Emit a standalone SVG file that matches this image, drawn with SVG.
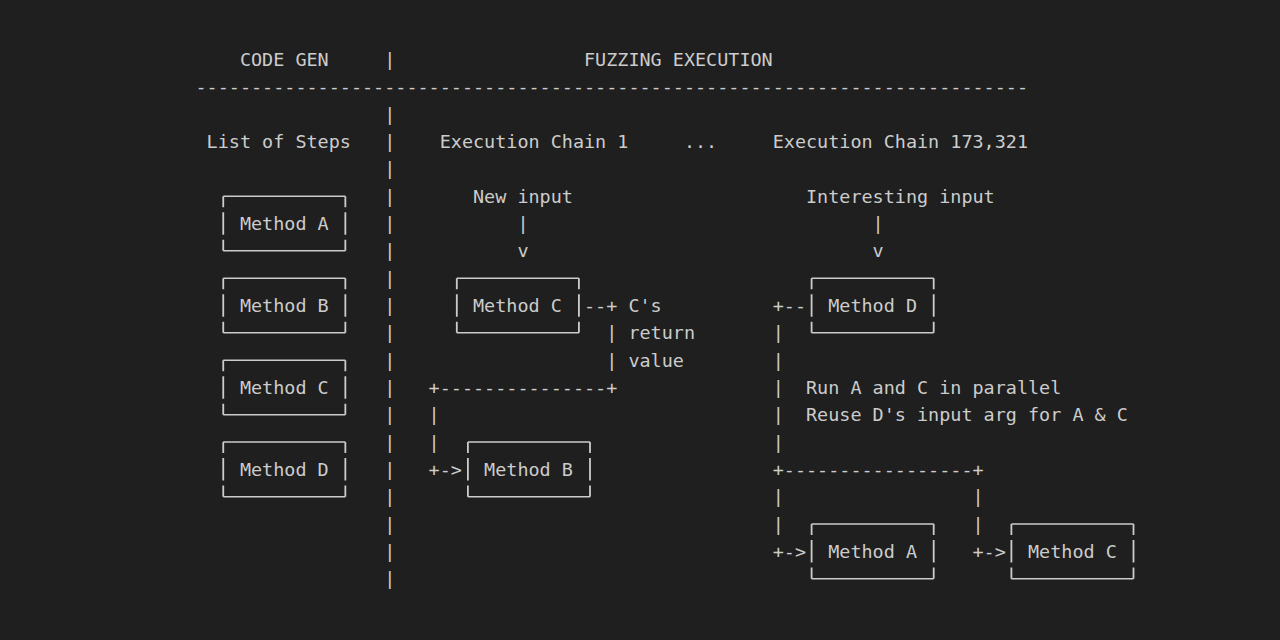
<svg xmlns="http://www.w3.org/2000/svg" width="1280" height="640" viewBox="0 0 1280 640">
<style>
.t{font-family:"DejaVu Sans Mono","Liberation Mono",monospace;font-size:18.44px;fill:#cccccc;}
.bh{fill:none;stroke:#cccccc;stroke-width:1.5;}
.bv{fill:none;stroke:#cccccc;stroke-width:1.8;stroke-dasharray:11 5 22.5 5 11.2;}
</style>
<rect x="0" y="0" width="1280" height="640" fill="#1f1f1f"/>
<g id="headers">
<text class="t" x="239.9" y="66">CODE GEN</text>
<text class="t" x="584.0" y="66">FUZZING EXECUTION</text>
<text class="t" x="195.5" y="93.33">---------------------------------------------------------------------------</text>
<text class="t" x="206.6" y="147.99">List of Steps</text>
<text class="t" x="439.7" y="147.99">Execution Chain 1</text>
<text class="t" x="683.9" y="147.99">...</text>
<text class="t" x="772.7" y="147.99">Execution Chain 173,321</text>
</g>
<g id="separator">
<text class="t"><tspan x="384.2" y="66">|</tspan><tspan x="384.2" y="120.66">|</tspan><tspan x="384.2" y="147.99">|</tspan><tspan x="384.2" y="175.32">|</tspan><tspan x="384.2" y="202.65">|</tspan><tspan x="384.2" y="229.98">|</tspan><tspan x="384.2" y="257.31">|</tspan><tspan x="384.2" y="284.64">|</tspan><tspan x="384.2" y="311.97">|</tspan><tspan x="384.2" y="339.3">|</tspan><tspan x="384.2" y="366.63">|</tspan><tspan x="384.2" y="393.96">|</tspan><tspan x="384.2" y="421.29">|</tspan><tspan x="384.2" y="448.62">|</tspan><tspan x="384.2" y="475.95">|</tspan><tspan x="384.2" y="503.28">|</tspan><tspan x="384.2" y="530.61">|</tspan><tspan x="384.2" y="557.94">|</tspan><tspan x="384.2" y="585.27">|</tspan></text>
</g>
<g id="steps-method-a">
<path class="bh" d="M223.25 196.15H345.35M223.25 250.82H345.35"/>
<path class="bv" d="M223.25 196.15V250.82M345.35 196.15V250.82"/>
<text class="t" x="239.9" y="229.98">Method A</text>
</g>
<g id="steps-method-b">
<path class="bh" d="M223.25 278.14H345.35M223.25 332.81H345.35"/>
<path class="bv" d="M223.25 278.14V332.81M345.35 278.14V332.81"/>
<text class="t" x="239.9" y="311.97">Method B</text>
</g>
<g id="steps-method-c">
<path class="bh" d="M223.25 360.13H345.35M223.25 414.8H345.35"/>
<path class="bv" d="M223.25 360.13V414.8M345.35 360.13V414.8"/>
<text class="t" x="239.9" y="393.96">Method C</text>
</g>
<g id="steps-method-d">
<path class="bh" d="M223.25 442.12H345.35M223.25 496.79H345.35"/>
<path class="bv" d="M223.25 442.12V496.79M345.35 442.12V496.79"/>
<text class="t" x="239.9" y="475.95">Method D</text>
</g>
<g id="chain1-input">
<text class="t" x="473.0" y="202.65">New input</text>
</g>
<g id="chain1-method-c">
<path class="bh" d="M456.8 278.14H578.9M456.8 332.81H578.9"/>
<path class="bv" d="M456.8 278.14V332.81M578.9 278.14V332.81"/>
<text class="t" x="473.0" y="311.97">Method C</text>
</g>
<g id="chain1-return-note">
<text class="t" x="628.4" y="311.97">C's</text>
<text class="t" x="628.4" y="339.3">return</text>
<text class="t" x="628.4" y="366.63">value</text>
</g>
<g id="chain1-method-b">
<path class="bh" d="M467.9 442.12H590.0M467.9 496.79H590.0"/>
<path class="bv" d="M467.9 442.12V496.79M590.0 442.12V496.79"/>
<text class="t" x="484.1" y="475.95">Method B</text>
</g>
<g id="chainN-input">
<text class="t" x="806.0" y="202.65">Interesting input</text>
</g>
<g id="chainN-method-d">
<path class="bh" d="M811.6 278.14H933.7M811.6 332.81H933.7"/>
<path class="bv" d="M811.6 278.14V332.81M933.7 278.14V332.81"/>
<text class="t" x="828.2" y="311.97">Method D</text>
</g>
<g id="chainN-note">
<text class="t" x="806.0" y="393.96">Run A and C in parallel</text>
<text class="t" x="806.0" y="421.29">Reuse D's input arg for A &amp; C</text>
</g>
<g id="chainN-method-a">
<path class="bh" d="M811.6 524.11H933.7M811.6 578.78H933.7"/>
<path class="bv" d="M811.6 524.11V578.78M933.7 524.11V578.78"/>
<text class="t" x="828.2" y="557.94">Method A</text>
</g>
<g id="chainN-method-c">
<path class="bh" d="M1011.4 524.11H1133.5M1011.4 578.78H1133.5"/>
<path class="bv" d="M1011.4 524.11V578.78M1133.5 524.11V578.78"/>
<text class="t" x="1028.0" y="557.94">Method C</text>
</g>
<g id="connectors">
<text class="t" x="517.4" y="229.98">|</text>
<text class="t" x="517.4" y="257.31">v</text>
<text class="t" x="584.0" y="311.97">--+</text>
<text class="t" x="606.2" y="339.3">|</text>
<text class="t" x="606.2" y="366.63">|</text>
<text class="t" x="428.6" y="393.96">+---------------+</text>
<text class="t" x="428.6" y="421.29">|</text>
<text class="t" x="428.6" y="448.62">|</text>
<text class="t" x="428.6" y="475.95">+-&gt;</text>
<text class="t" x="872.6" y="229.98">|</text>
<text class="t" x="872.6" y="257.31">v</text>
<text class="t" x="772.7" y="311.97">+--</text>
<text class="t" x="772.7" y="339.3">|</text>
<text class="t" x="772.7" y="366.63">|</text>
<text class="t" x="772.7" y="393.96">|</text>
<text class="t" x="772.7" y="421.29">|</text>
<text class="t" x="772.7" y="448.62">|</text>
<text class="t" x="772.7" y="475.95">+-----------------+</text>
<text class="t" x="772.7" y="503.28">|</text>
<text class="t" x="972.5" y="503.28">|</text>
<text class="t" x="772.7" y="530.61">|</text>
<text class="t" x="972.5" y="530.61">|</text>
<text class="t" x="772.7" y="557.94">+-&gt;</text>
<text class="t" x="972.5" y="557.94">+-&gt;</text>
</g>
</svg>
